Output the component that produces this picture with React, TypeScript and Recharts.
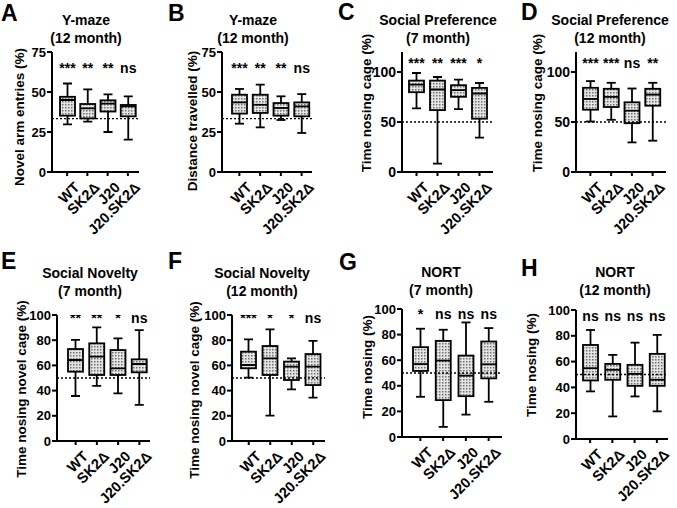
import React from 'react';
import { ComposedChart, Bar, XAxis, YAxis, ReferenceLine } from 'recharts';

// ---------- DATA ----------
const groups = ['WT', 'SK2Δ', 'J20', 'J20.SK2Δ'];

// each entry: [min, q1, median, q3, max]
const novelArmEntries12 = [
  [29.8, 35.2, 45, 47, 55.3],
  [31.5, 33.5, 39.8, 42.5, 51.7],
  [25, 37.8, 42.7, 44.8, 48.5],
  [20.2, 34.8, 41, 41.9, 47.3],
];
const distanceTravelled12 = [
  [30.2, 36.5, 43.5, 48.3, 51.9],
  [27.9, 36.9, 42, 48.3, 54.6],
  [32.5, 35.2, 40, 43.1, 47.3],
  [24.4, 34.8, 41, 43.5, 48.7],
];
const socialPref7 = [
  [63.6, 79.8, 87.4, 91.4, 99],
  [8.3, 61.9, 82.5, 91.4, 95],
  [62.9, 75.2, 81.8, 86.8, 92.4],
  [34.4, 53.3, 78.5, 84.1, 89],
];
const socialPref12 = [
  [50.5, 62.3, 73, 84.2, 90.9],
  [52.2, 65, 75.1, 83.2, 89.2],
  [29.6, 48.8, 61.3, 69.7, 83.5],
  [31.3, 66.3, 77.4, 83.2, 89.2],
];
const socialNovelty7 = [
  [35.7, 55, 64.3, 73, 80.2],
  [43.7, 52.4, 66.9, 77.5, 90.2],
  [37.8, 52.4, 57.7, 72.2, 81.5],
  [28.6, 54.5, 61.1, 64.8, 88],
];
const socialNovelty12 = [
  [50.3, 57.7, 60.3, 70.9, 80.7],
  [20.1, 52.4, 65.6, 75.4, 88.6],
  [41, 48.4, 59, 63, 65.6],
  [34.4, 44.4, 59, 69, 79.4],
];
const nort7 = [
  [31.4, 51.6, 57, 70.2, 84.6],
  [7.9, 28.8, 59.7, 75.1, 83.8],
  [17.5, 31.9, 47.9, 63.6, 89.5],
  [27.5, 45.8, 56.8, 74.6, 85.1],
];
const nort12 = [
  [36.9, 45.4, 54.9, 72.9, 84.5],
  [17.5, 45.9, 53.6, 58.2, 65.2],
  [33, 41.2, 50.5, 57.5, 74.7],
  [21.4, 41.2, 45.9, 66, 80.7],
];

const sigA = ['***', '**', '**', 'ns'];
const sigB = ['***', '**', '**', 'ns'];
const sigC = ['***', '**', '***', '*'];
const sigD = ['***', '***', 'ns', '**'];
const sigE = ['**', '**', '*', 'ns'];
const sigF = ['***', '*', '*', 'ns'];
const sigG = ['*', 'ns', 'ns', 'ns'];
const sigH = ['ns', 'ns', 'ns', 'ns'];

const ticks75 = [0, 25, 50, 75];
const ticks100by50 = [0, 50, 100];
const ticks100by20 = [0, 20, 40, 60, 80, 100];

// ---------- STYLE / LAYOUT ----------
const FONT = "'Liberation Sans', Arial, Helvetica, sans-serif";

const BoxShape = (props: any) => {
  const { x, y, width, height, payload } = props;
  if (!payload) return null;
  const [lo, hi] = payload.range;
  const top = Math.min(y, y + height);
  const bottom = Math.max(y, y + height);
  const px = (v: number) => bottom - ((bottom - top) * (v - lo)) / (hi - lo);
  const cx = x + width / 2;
  const capHalf = width * 0.3;
  const sw = 1.8;
  const yq1 = px(payload.q1);
  const yq3 = px(payload.q3);
  const ymed = px(payload.med);
  const ysig = px(payload.sigY);
  return (
    <g>
      <line x1={cx} x2={cx} y1={top} y2={yq3} stroke="#000" strokeWidth={sw} />
      <line x1={cx} x2={cx} y1={yq1} y2={bottom} stroke="#000" strokeWidth={sw} />
      <line x1={cx - capHalf} x2={cx + capHalf} y1={top} y2={top} stroke="#000" strokeWidth={sw} />
      <line x1={cx - capHalf} x2={cx + capHalf} y1={bottom} y2={bottom} stroke="#000" strokeWidth={sw} />
      <rect x={x} y={yq3} width={width} height={yq1 - yq3} fill="url(#stipple)" stroke="#000" strokeWidth={sw} />
      <line x1={x} x2={x + width} y1={ymed} y2={ymed} stroke="#000" strokeWidth={sw} />
      <text x={cx} y={ysig} textAnchor="middle" fontFamily={FONT} fontWeight={700} fontSize={14} fill="#000">
        {payload.sig}
      </text>
    </g>
  );
};

const CatTick = (props: any) => {
  const { x, y, payload } = props;
  return (
    <g transform={`translate(${x + 6},${y + 3}) rotate(-45)`}>
      <text x={0} y={0} dy="0.71em" textAnchor="end" fontFamily={FONT} fontWeight={700} fontSize={14.5} fill="#000">
        {payload.value}
      </text>
    </g>
  );
};

type PanelCfg = {
  letter: string;
  letterX: number;
  letterY: number;
  title: string[];
  titleX: number;
  titleY: number;
  ylabel: string;
  ylabelX: number;
  ylabelY: number;
  axisX: number;
  plotTop: number;
  plotBottom: number;
  xEnd: number;
  padL: number;
  padR: number;
  domainMax: number;
  ticks: number[];
  tickFont: number;
  values: number[][];
  sig: string[];
  sigY: number;
  ref: number;
};

const panels: PanelCfg[] = [
  { letter: 'A', letterX: 1, letterY: 2, title: ['Y-maze', '(12 month)'], titleX: 86, titleY: 11,
    ylabel: 'Novel arm entries (%)', ylabelX: 20, ylabelY: 117, axisX: 52, plotTop: 52, plotBottom: 172,
    xEnd: 139, padL: 5, padR: 1, domainMax: 75, ticks: ticks75, tickFont: 13, values: novelArmEntries12, sig: sigA, sigY: 62, ref: 33.3 },
  { letter: 'B', letterX: 168, letterY: 2, title: ['Y-maze', '(12 month)'], titleX: 253, titleY: 11,
    ylabel: 'Distance travelled (%)', ylabelX: 193, ylabelY: 121, axisX: 222, plotTop: 52, plotBottom: 172,
    xEnd: 312, padL: 7, padR: 0, domainMax: 75, ticks: ticks75, tickFont: 13, values: distanceTravelled12, sig: sigB, sigY: 62, ref: 33.3 },
  { letter: 'C', letterX: 338, letterY: 1, title: ['Social Preference', '(7 month)'], titleX: 438, titleY: 11,
    ylabel: 'Time nosing cage (%)', ylabelX: 367, ylabelY: 103, axisX: 402, plotTop: 52, plotBottom: 172,
    xEnd: 493, padL: 4, padR: 3, domainMax: 120, ticks: ticks100by50, tickFont: 14, values: socialPref7, sig: sigC, sigY: 104.5, ref: 50 },
  { letter: 'D', letterX: 521, letterY: 1, title: ['Social Preference', '(12 month)'], titleX: 610, titleY: 11,
    ylabel: 'Time nosing cage (%)', ylabelX: 538, ylabelY: 103, axisX: 576, plotTop: 52, plotBottom: 172,
    xEnd: 666, padL: 4, padR: 3, domainMax: 120, ticks: ticks100by50, tickFont: 14, values: socialPref12, sig: sigD, sigY: 104.5, ref: 50 },
  { letter: 'E', letterX: 1, letterY: 250, title: ['Social Novelty', '(7 month)'], titleX: 90, titleY: 264,
    ylabel: 'Time nosing novel cage (%)', ylabelX: 22, ylabelY: 389, axisX: 57, plotTop: 315, plotBottom: 441,
    xEnd: 150, padL: 8, padR: 0, domainMax: 100, ticks: ticks100by20, tickFont: 13, values: socialNovelty7, sig: sigE, sigY: 94, ref: 50 },
  { letter: 'F', letterX: 168, letterY: 250, title: ['Social Novelty', '(12 month)'], titleX: 262, titleY: 264,
    ylabel: 'Time nosing novel cage (%)', ylabelX: 195, ylabelY: 390, axisX: 232, plotTop: 315, plotBottom: 441,
    xEnd: 325, padL: 6, padR: 1, domainMax: 100, ticks: ticks100by20, tickFont: 13, values: socialNovelty12, sig: sigF, sigY: 94, ref: 50 },
  { letter: 'G', letterX: 339, letterY: 251, title: ['NORT', '(7 month)'], titleX: 441, titleY: 263,
    ylabel: 'Time nosing (%)', ylabelX: 368, ylabelY: 367, axisX: 402, plotTop: 309, plotBottom: 437,
    xEnd: 502, padL: 7, padR: 2, domainMax: 100, ticks: ticks100by20, tickFont: 13, values: nort7, sig: sigG, sigY: 92.4, ref: 50 },
  { letter: 'H', letterX: 521, letterY: 257, title: ['NORT', '(12 month)'], titleX: 615, titleY: 263,
    ylabel: 'Time nosing (%)', ylabelX: 532, ylabelY: 365, axisX: 576, plotTop: 310, plotBottom: 439,
    xEnd: 668, padL: 3, padR: 0, domainMax: 100, ticks: ticks100by20, tickFont: 13, values: nort12, sig: sigH, sigY: 91.7, ref: 50 },
];

const Y_AXIS_W = 50;
const TOP_M = 8;
const RIGHT_M = 4;
const X_AXIS_H = 66;

const Panel = ({ p }: { p: PanelCfg }) => {
  const data = groups.map((g, i) => ({
    name: g,
    range: [p.values[i][0], p.values[i][4]],
    q1: p.values[i][1],
    med: p.values[i][2],
    q3: p.values[i][3],
    sig: p.sig[i],
    sigY: p.sigY,
  }));
  const plotW = p.xEnd - p.axisX;
  const plotH = p.plotBottom - p.plotTop;
  const W = Y_AXIS_W + plotW + RIGHT_M;
  const H = TOP_M + plotH + X_AXIS_H;
  const axisStyle = { stroke: '#000', strokeWidth: 2 };
  return (
    <>
      <div style={{ position: 'absolute', left: p.axisX - Y_AXIS_W, top: p.plotTop - TOP_M }}>
        <ComposedChart width={W} height={H} data={data} margin={{ top: TOP_M, right: RIGHT_M, left: 0, bottom: 0 }}>
          <XAxis
            dataKey="name"
            type="category"
            interval={0}
            padding={{ left: p.padL, right: p.padR }}
            tick={<CatTick />}
            tickLine={axisStyle}
            axisLine={axisStyle}
            tickSize={4}
            height={X_AXIS_H}
          />
          <YAxis
            type="number"
            domain={[0, p.domainMax]}
            ticks={p.ticks}
            interval={0}
            width={Y_AXIS_W}
            allowDataOverflow
            tickSize={5}
            tickMargin={1}
            tickLine={axisStyle}
            axisLine={axisStyle}
            tick={{ fill: '#000', fontSize: p.tickFont, fontWeight: 700, fontFamily: FONT }}
          />
          <ReferenceLine y={p.ref} stroke="#000" strokeWidth={1.3} strokeDasharray="2 2" ifOverflow="extendDomain" />
          <Bar dataKey="range" barSize={15} shape={<BoxShape />} isAnimationActive={false} />
        </ComposedChart>
      </div>
      <div style={{ position: 'absolute', left: p.letterX, top: p.letterY, fontFamily: FONT, fontWeight: 700, fontSize: 23, lineHeight: '23px' }}>
        {p.letter}
      </div>
      <div style={{ position: 'absolute', left: p.titleX, top: p.titleY, transform: 'translateX(-50%)', textAlign: 'center', fontFamily: FONT, fontWeight: 700, fontSize: 14, lineHeight: '18px', whiteSpace: 'nowrap' }}>
        {p.title[0]}
        <br />
        {p.title[1]}
      </div>
      <div style={{ position: 'absolute', left: p.ylabelX, top: p.ylabelY, transform: 'translate(-50%, -50%) rotate(-90deg)', fontFamily: FONT, fontWeight: 700, fontSize: 13.5, lineHeight: '16px', whiteSpace: 'nowrap' }}>
        {p.ylabel}
      </div>
    </>
  );
};

export default function App() {
  return (
    <div style={{ position: 'absolute', left: 0, top: 0, width: 677, height: 508, background: '#fff', overflow: 'hidden' }}>
      <svg width={0} height={0} style={{ position: 'absolute' }}>
        <defs>
          <pattern id="stipple" patternUnits="userSpaceOnUse" width={3} height={3}>
            <rect width={3} height={3} fill="#e4e4e4" />
            <rect width={1.5} height={1.5} fill="#707070" />
          </pattern>
        </defs>
      </svg>
      {panels.map((p) => (
        <Panel key={p.letter} p={p} />
      ))}
    </div>
  );
}
